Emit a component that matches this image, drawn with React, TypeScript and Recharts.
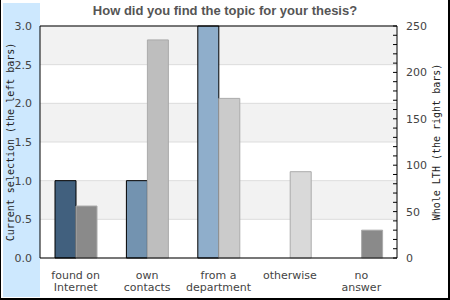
import { BarChart, Bar, XAxis, YAxis, CartesianGrid, Cell, ReferenceLine } from 'recharts';

const categories = ['found on\nInternet', 'own\ncontacts', 'from a\ndepartment', 'otherwise', 'no\nanswer'];
const currentSelection = [1, 1, 3, 0, 0];
const wholeLth = [56, 235, 172, 93, 30];
const leftTicks = [0, 0.5, 1, 1.5, 2, 2.5, 3];
const rightTicks = [0, 10, 20, 30, 40, 50, 60, 70, 80, 90, 100, 110, 120, 130, 140, 150, 160, 170, 180, 190, 200, 210, 220, 230, 240, 250];
const rightLabelled = [0, 50, 100, 150, 200, 250];
const currentColors = ['#41607e', '#7393b0', '#8faecb', '#b7cde0', '#b7cde0'];
const wholeColors = ['#8a8a8a', '#bebebe', '#cbcbcb', '#d9d9d9', '#8a8a8a'];

const data = categories.map((name, i) => ({ name, current: currentSelection[i], whole: wholeLth[i] }));

const sans = 'DejaVu Sans, sans-serif';
const mono = 'DejaVu Sans Mono, monospace';

const XTick = ({ x, y, payload }: any) => {
    const lines = String(payload.value).split('\n');
    return (
        <text x={x} y={y} textAnchor="middle" fontSize={11} fontFamily={sans} fill="#444">
            {lines.map((l, i) => (
                <tspan key={i} x={x} dy={i === 0 ? 21 : 12}>{l}</tspan>
            ))}
        </text>
    );
};

const RightTick = ({ x, y, payload }: any) => (
    <g>
        <line x1={x - 4} x2={x} y1={y} y2={y} stroke="#000" />
        {rightLabelled.includes(payload.value) && (
            <text x={x + 9} y={y} dy={4} fontSize={11} fontFamily={sans} fill="#444">{payload.value}</text>
        )}
    </g>
);

const sideLabel = (text: string, dx: number) => (props: any) => {
    const { x, y, height } = props.viewBox;
    const cx = x + dx;
    const cy = y + height / 2;
    return (
        <text x={cx} y={cy} transform={`rotate(-90 ${cx} ${cy})`} textAnchor="middle" dominantBaseline="central"
            fontSize={10} fontFamily={mono} fill="#222">
            {text}
        </text>
    );
};

export default function App() {
    return (
        <div style={{ position: 'absolute', left: 0, top: 0, width: 450, height: 300, background: '#fff' }}>
            <div style={{ position: 'absolute', left: 3, top: 3, width: 37, height: 294, background: '#cde8fe' }} />
            <div style={{
                position: 'absolute', left: 0, top: 3, width: 450, textAlign: 'center',
                font: 'bold 13px "Liberation Sans", Arial, sans-serif', lineHeight: '16px', color: '#555',
            }}>
                How did you find the topic for your thesis?
            </div>
            <div style={{ position: 'absolute', left: 0, top: 0 }}>
                <BarChart width={450} height={300} data={data} margin={{ top: 26, right: 0, left: 0, bottom: 0 }}
                    barGap={0} barSize={21}>
                    <CartesianGrid yAxisId="left" vertical={false} stroke="#ddd" horizontalFill={['#f2f2f2', '#ffffff']} />
                    <XAxis dataKey="name" interval={0} height={42} tick={<XTick />} tickLine={false}
                        tickSize={0} tickMargin={0} axisLine={{ stroke: '#000' }} />
                    <YAxis yAxisId="left" width={40} domain={[0, 3]} ticks={leftTicks} tickLine={false}
                        tickSize={0} tickMargin={8} axisLine={{ stroke: '#000' }}
                        tick={{ fontSize: 11, fontFamily: sans, fill: '#444' }}
                        tickFormatter={(v) => Number(v).toFixed(1)}
                        label={sideLabel('Current selection (the left bars)', 10)} />
                    <YAxis yAxisId="right" orientation="right" width={53} domain={[0, 250]} ticks={rightTicks}
                        interval={0} tickLine={false} tickSize={0} tickMargin={0} axisLine={{ stroke: '#000' }}
                        tick={<RightTick />}
                        label={sideLabel('Whole LTH (the right bars)', 39.5)} />
                    <ReferenceLine yAxisId="left" y={3} stroke="#000" />
                    <Bar yAxisId="left" dataKey="current" stroke="#000" strokeWidth={1} isAnimationActive={false}>
                        {data.map((_, i) => <Cell key={i} fill={currentColors[i]} />)}
                    </Bar>
                    <Bar yAxisId="right" dataKey="whole" stroke="#aaa" strokeWidth={1} isAnimationActive={false}>
                        {data.map((_, i) => <Cell key={i} fill={wholeColors[i]} />)}
                    </Bar>
                </BarChart>
            </div>
            <div style={{
                position: 'absolute', left: 0, top: 0, width: 450, height: 300, boxSizing: 'border-box',
                borderLeft: '1px solid #000', borderRight: '2px solid #000', borderBottom: '2px solid #000',
                pointerEvents: 'none',
            }} />
        </div>
    );
}
